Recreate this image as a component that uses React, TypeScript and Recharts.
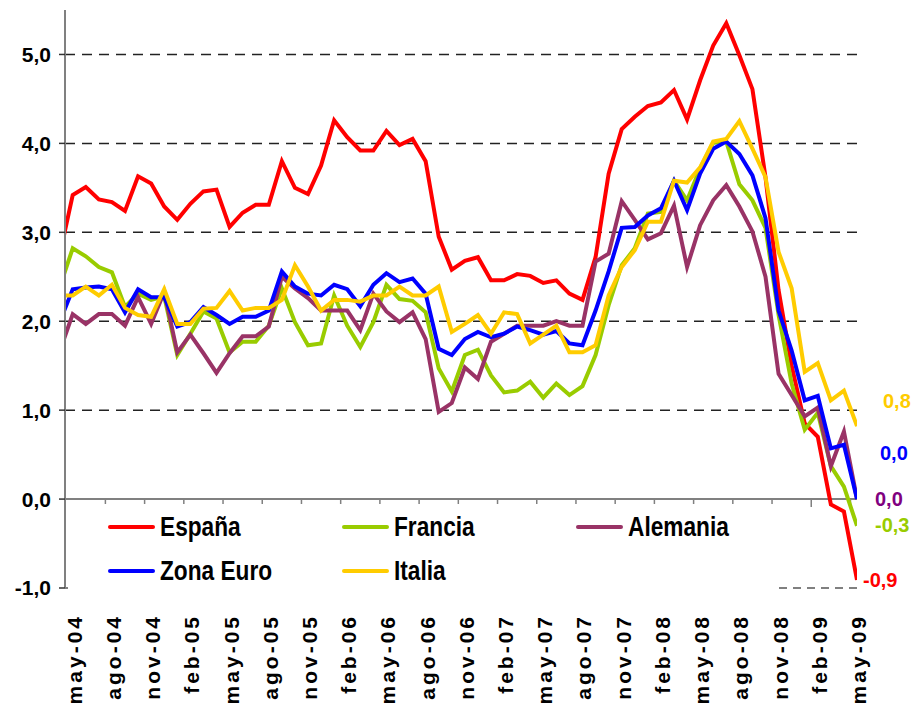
import React from "react";
import { LineChart, Line, XAxis, YAxis, ReferenceLine, LabelList } from "recharts";

const FONT = '"Liberation Sans", Arial, sans-serif';

// months: abr-04 (cut off by the axis) ... may-09
const monthNames = ["ene", "feb", "mar", "abr", "may", "jun", "jul", "ago", "sep", "oct", "nov", "dic"];
const months: string[] = [];
for (let k = 0; k < 62; k++) {
  const m = 3 + k;
  months.push(`${monthNames[m % 12]}-${String(4 + Math.floor(m / 12)).padStart(2, "0")}`);
}

const espana = [
  2.74, 3.42, 3.51, 3.37, 3.34, 3.24, 3.63, 3.55, 3.29, 3.14, 3.32, 3.46, 3.48, 3.06, 3.22, 3.31,
  3.31, 3.8, 3.5, 3.43, 3.75, 4.26, 4.07, 3.92, 3.92, 4.14, 3.98, 4.05, 3.8, 2.95, 2.58, 2.68,
  2.72, 2.46, 2.46, 2.53, 2.51, 2.43, 2.46, 2.31, 2.24, 2.72, 3.66, 4.16, 4.3, 4.42, 4.46, 4.6,
  4.27, 4.71, 5.1, 5.35, 4.99, 4.61, 3.62, 2.35, 1.5, 0.85, 0.7, -0.06, -0.14, -0.91,
];
const francia = [
  2.38, 2.82, 2.73, 2.61, 2.55, 2.16, 2.31, 2.24, 2.28, 1.62, 1.86, 2.11, 2.03, 1.65, 1.77, 1.77,
  1.95, 2.37, 1.99, 1.73, 1.75, 2.29, 1.95, 1.71, 1.99, 2.41, 2.25, 2.23, 2.1, 1.47, 1.21, 1.62,
  1.68, 1.39, 1.2, 1.22, 1.32, 1.14, 1.3, 1.17, 1.27, 1.62, 2.18, 2.63, 2.82, 3.21, 3.23, 3.58,
  3.36, 3.72, 4.01, 4.02, 3.54, 3.36, 3.05, 2.07, 1.3, 0.78, 0.97, 0.37, 0.14, -0.3,
];
const alemania = [
  1.66, 2.08, 1.97, 2.08, 2.08, 1.95, 2.27, 1.97, 2.33, 1.65, 1.85, 1.64, 1.42, 1.64, 1.83, 1.83,
  1.94, 2.5, 2.37, 2.26, 2.12, 2.12, 2.12, 1.9, 2.31, 2.11, 1.99, 2.1, 1.8, 0.98, 1.08, 1.48,
  1.35, 1.77, 1.86, 1.95, 1.95, 1.95, 2.0, 1.95, 1.95, 2.67, 2.76, 3.35, 3.14, 2.92, 2.99, 3.3,
  2.61, 3.08, 3.36, 3.53, 3.29, 3.01, 2.5, 1.41, 1.17, 0.93, 1.03, 0.37, 0.76, 0.0,
];
const zonaEuro = [
  1.99, 2.36, 2.38, 2.39, 2.36, 2.1, 2.36, 2.27, 2.27, 1.94, 1.99, 2.16, 2.07, 1.97, 2.05, 2.05,
  2.12, 2.56, 2.39, 2.31, 2.29, 2.41, 2.36, 2.17, 2.41, 2.54, 2.44, 2.48, 2.31, 1.69, 1.62, 1.8,
  1.88, 1.82, 1.86, 1.94, 1.9, 1.85, 1.89, 1.75, 1.73, 2.12, 2.56, 3.05, 3.06, 3.19, 3.27, 3.58,
  3.25, 3.66, 3.94, 4.02, 3.88, 3.64, 3.16, 2.12, 1.67, 1.11, 1.16, 0.57, 0.61, 0.0,
];
const italia = [
  2.29, 2.29, 2.39, 2.29, 2.41, 2.15, 2.07, 2.05, 2.36, 1.97, 1.97, 2.14, 2.15, 2.34, 2.12, 2.15,
  2.15, 2.24, 2.63, 2.39, 2.12, 2.24, 2.24, 2.22, 2.29, 2.29, 2.39, 2.29, 2.29, 2.39, 1.88, 1.97,
  2.07, 1.86, 2.1, 2.08, 1.75, 1.85, 1.95, 1.65, 1.65, 1.73, 2.29, 2.61, 2.8, 3.12, 3.12, 3.58,
  3.56, 3.73, 4.02, 4.05, 4.25, 3.94, 3.62, 2.78, 2.37, 1.43, 1.53, 1.11, 1.22, 0.82,
];

const xTicks = [0, 3, 6, 9, 12, 15, 18, 21, 24, 27, 30, 33, 36, 39, 42, 45, 48, 51, 54, 57, 60];
const yTicks = [-1, 0, 1, 2, 3, 4, 5];
const gridValues = [1, 2, 3, 4, 5];
const zeroTicks = xTicks.slice(0, -1).map((t) => t + 2.5);

const data = months.map((mes, k) => ({
  i: k - 1,
  mes,
  "España": espana[k],
  Francia: francia[k],
  Alemania: alemania[k],
  "Zona Euro": zonaEuro[k],
  Italia: italia[k],
}));
const last = data.length - 1;

// draw order and end-label placement
const series = [
  { key: "España", color: "#FF0000", label: "#FF0000", dx: 6, dy: 7, col: 0, row: 0 },
  { key: "Francia", color: "#99CC00", label: "#99CC00", dx: 18, dy: 6, col: 1, row: 0 },
  { key: "Alemania", color: "#993366", label: "#800080", dx: 18, dy: 7, col: 2, row: 0 },
  { key: "Zona Euro", color: "#0000FF", label: "#0000FF", dx: 23, dy: -39, col: 0, row: 1 },
  { key: "Italia", color: "#FFCC00", label: "#FFCC00", dx: 26, dy: -18, col: 1, row: 1 },
];

const fmt = (v: number) => v.toFixed(1).replace(".", ",");
const fmtEnd = (v: number) => {
  const s = fmt(v);
  return s === "-0,0" ? "0,0" : s;
};

const XTick = (props: any) => {
  const { x, y, payload } = props;
  return (
    <g transform={`translate(${x + 9},${y + 26})`}>
      <text
        transform="rotate(-90)"
        textAnchor="end"
        fontSize={21}
        fontWeight={700}
        fontFamily={FONT}
        letterSpacing={3}
        fill="#000"
      >
        {months[payload.value + 1]}
      </text>
    </g>
  );
};

const endLabel = (color: string, dx: number, dy: number) => (props: any) => {
  if (props.index !== last) return null;
  const x = props.x ?? props.viewBox?.x;
  const y = props.y ?? props.viewBox?.y;
  return (
    <text x={x + dx} y={y + dy} fill={color} fontSize={20} fontWeight={700} fontFamily={FONT}>
      {fmtEnd(Number(props.value))}
    </text>
  );
};

export default function App() {
  return (
    <div style={{ position: "absolute", left: 0, top: 0, width: 916, height: 709, background: "#fff" }}>
      <LineChart width={916} height={709} data={data} margin={{ top: 10, right: 59, left: 0, bottom: 0 }}>
        <XAxis
          type="number"
          dataKey="i"
          domain={[-0.59, 60]}
          allowDataOverflow
          ticks={xTicks}
          interval={0}
          axisLine={false}
          tickLine={false}
          tickSize={0}
          tickMargin={0}
          height={121}
          tick={<XTick />}
        />
        <YAxis
          domain={[-1, 5.5]}
          allowDataOverflow
          ticks={yTicks}
          interval={0}
          width={65}
          tickFormatter={fmt}
          tick={{ fontSize: 21, fontWeight: 700, fill: "#000", fontFamily: FONT }}
          axisLine={{ stroke: "#808080", strokeWidth: 2 }}
          tickLine={{ stroke: "#333", strokeWidth: 1.5 }}
          tickSize={6}
          tickMargin={8}
        />
        {gridValues.map((v) => (
          <ReferenceLine key={v} y={v} stroke="#222" strokeWidth={1.5} strokeDasharray="10 7" />
        ))}
        <ReferenceLine y={-1} stroke="#808080" strokeWidth={2} strokeDasharray="8 6" />
        <ReferenceLine y={0} stroke="#808080" strokeWidth={2} />
        {zeroTicks.map((t) => (
          <ReferenceLine
            key={`zt${t}`}
            segment={[
              { x: t, y: 0 },
              { x: t, y: -0.09 },
            ]}
            stroke="#808080"
            strokeWidth={1.5}
          />
        ))}
        {series.map((s) => (
          <Line
            key={s.key}
            type="linear"
            dataKey={s.key}
            stroke={s.color}
            strokeWidth={4}
            dot={false}
            isAnimationActive={false}
          >
            <LabelList dataKey={s.key} content={endLabel(s.label, s.dx, s.dy)} />
          </Line>
        ))}
      </LineChart>
      <div
        style={{
          position: "absolute",
          left: 68,
          top: 504,
          width: 707,
          height: 86,
          background: "#fff",
        }}
      >
        {series.map((s) => (
          <div
            key={s.key}
            style={{
              position: "absolute",
              left: 40 + s.col * 234,
              top: 23 + s.row * 44 - 16,
              height: 32,
              display: "flex",
              alignItems: "center",
            }}
          >
            <span
              style={{
                display: "inline-block",
                width: 47,
                height: 4,
                borderRadius: 2,
                background: s.color,
                marginRight: 5,
              }}
            />
            <span
              style={{
                display: "inline-block",
                fontFamily: FONT,
                fontWeight: 700,
                fontSize: 27,
                color: "#000",
                lineHeight: "32px",
                transform: "scaleX(0.84)",
                transformOrigin: "left center",
                whiteSpace: "nowrap",
              }}
            >
              {s.key}
            </span>
          </div>
        ))}
      </div>
    </div>
  );
}
